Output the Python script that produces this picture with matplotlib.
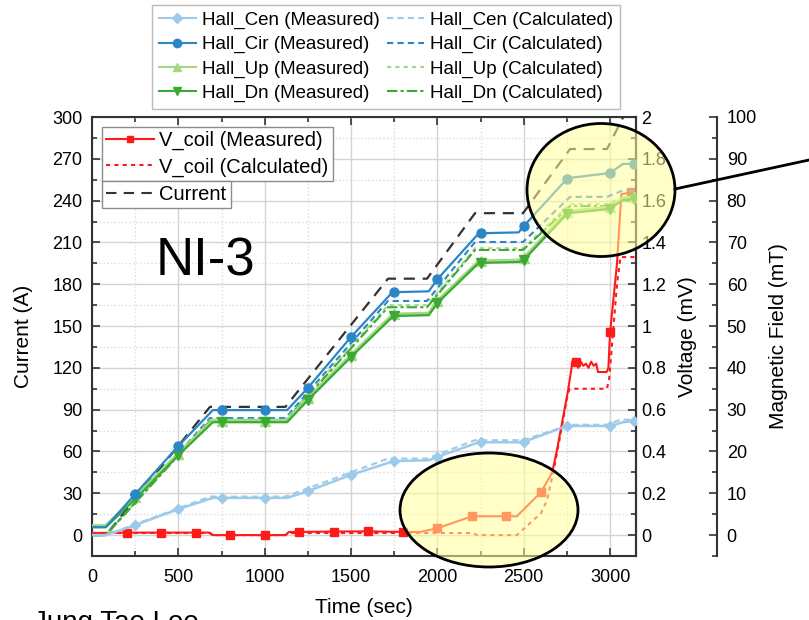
import matplotlib
matplotlib.use('Agg')
import matplotlib.pyplot as plt
from matplotlib.ticker import MultipleLocator, FuncFormatter
from matplotlib.patches import Ellipse
from matplotlib.lines import Line2D

plt.rcParams['font.family'] = ['Liberation Sans', 'DejaVu Sans']

# ---- data ----
# current profile (A)
t_cur = [0, 80, 683, 1120, 1714, 1940, 2218, 2496, 2768, 2982, 3150]
current = [0, 0, 92, 92, 184, 184, 231, 231, 277, 277, 318]

# measured Hall probes (mT), markers every 250 s
t_hall = [0, 80, 250, 500, 700, 750, 1000, 1130, 1250, 1500, 1740, 1750,
          1950, 2000, 2240, 2250, 2470, 2500, 2750, 2760, 3000, 3075, 3140]
hall_mark = [2, 3, 5, 6, 8, 9, 11, 13, 15, 17, 18, 20, 22]
cen_meas = [0, 0, 2.4, 6.2, 8.9, 8.9, 8.9, 8.9, 10.5, 14.4, 17.6, 17.7,
            17.9, 18.7, 22.2, 22.2, 22.2, 22.3, 26.1, 26.1, 26.1, 27.0, 27.3]
cir_meas = [1.9, 1.9, 9.8, 21.3, 29.9, 29.9, 29.9, 29.9, 35.2, 47.4, 58.1, 58.1,
            58.3, 61.2, 72.2, 72.2, 72.4, 73.9, 85.2, 85.4, 86.6, 88.8, 88.8]
up_meas = [2.2, 2.2, 9.0, 19.5, 27.4, 27.4, 27.4, 27.4, 32.7, 43.0, 52.6, 52.8,
           53.0, 55.9, 65.5, 65.5, 65.7, 66.2, 77.2, 77.4, 78.4, 80.6, 80.8]
dn_meas = [1.9, 1.9, 8.6, 19.1, 27.0, 27.0, 27.0, 27.0, 32.3, 42.6, 52.2, 52.4,
           52.6, 55.5, 65.1, 65.1, 65.3, 65.8, 76.8, 77.0, 78.0, 80.2, 80.4]

# calculated Hall fields (mT)
t_calc = [0, 80, 683, 1120, 1714, 1940, 2218, 2496, 2768, 2982, 3060, 3150]
cen_calc = [0, 0, 9.2, 9.2, 18.3, 18.3, 22.7, 22.7, 26.4, 26.4, 27.6, 27.6]
cir_calc = [0, 0, 28.0, 28.0, 56.0, 56.0, 70.1, 70.1, 80.9, 80.9, 82.2, 82.2]
up_calc = [0, 0, 27.6, 27.6, 55.0, 55.0, 68.6, 68.6, 79.2, 79.2, 80.6, 80.6]
dn_calc = [0, 0, 27.3, 27.3, 54.5, 54.5, 68.2, 68.2, 78.7, 78.7, 80.0, 80.0]

# coil voltage (mV)
t_vm = [0, 200, 400, 600, 680, 700, 800, 1000, 1120, 1140, 1200, 1400, 1600,
        1800, 1900, 2000, 2200, 2220, 2400, 2460, 2600, 2665, 2693, 2727, 2756,
        2775, 2780, 2790, 2800, 2815, 2830, 2845, 2860, 2875, 2890, 2905, 2920,
        2930, 2980, 2990, 3000, 3040, 3065, 3120, 3150]
v_meas = [0.01, 0.012, 0.012, 0.012, 0.012, 0.0, 0.0, 0.0, 0.0, 0.015, 0.015,
          0.017, 0.018, 0.015, 0.015, 0.033, 0.09, 0.09, 0.09, 0.09, 0.205, 0.30,
          0.41, 0.56, 0.69, 0.79, 0.83, 0.81, 0.83, 0.80, 0.83, 0.81, 0.82, 0.80,
          0.83, 0.81, 0.82, 0.78, 0.78, 0.80, 0.97, 1.30, 1.63, 1.64, 1.64]
vm_mark = [1, 2, 3, 6, 7, 10, 11, 12, 13, 15, 16, 18, 20, 28, 40, 43]
t_vc = [0, 680, 700, 1120, 1140, 1840, 2206, 2230, 2460, 2524, 2600, 2635,
        2670, 2710, 2756, 2768, 2982, 2995, 3040, 3060, 3150]
v_calc = [0.01, 0.01, 0.0, 0.0, 0.01, 0.01, 0.01, 0.0, 0.0, 0.048, 0.105,
          0.167, 0.297, 0.47, 0.68, 0.70, 0.70, 0.75, 1.2, 1.33, 1.33]

# ---- styles ----
c_cen = '#9ecae9'
c_cir = '#2b86c5'
c_up = '#a3d982'
c_dn = '#3aaa35'
c_v = '#ff1a1a'

fig = plt.figure(figsize=(8.09, 6.2), dpi=100)
ax = fig.add_axes([92 / 809, 1 - 556 / 620, 544 / 809, 439 / 620])
ax2 = ax.twinx()
ax3 = ax.twinx()
ax3.spines['right'].set_position(('axes', (717 - 92) / 544))

# current
ax.plot(t_cur, current, color='#333333', ls=(0, (5, 3.5)), lw=1.6)

# coil voltage
ax2.plot(t_vc, v_calc, color=c_v, ls=(0, (2, 2)), lw=1.5)
ax2.plot(t_vm, v_meas, color=c_v, lw=1.5, marker='s', ms=5.5,
         markevery=vm_mark)

# hall probes
ax3.plot(t_calc, cen_calc, color=c_cen, ls=(0, (3, 2)), lw=1.5)
ax3.plot(t_calc, cir_calc, color=c_cir, ls=(0, (3, 2)), lw=1.5)
ax3.plot(t_calc, up_calc, color=c_up, ls=(0, (2, 2)), lw=1.5)
ax3.plot(t_calc, dn_calc, color=c_dn, ls=(0, (5, 1.5, 1.5, 1.5)), lw=1.5)
ax3.plot(t_hall, cen_meas, color=c_cen, lw=1.8, marker='D', ms=5.5, markevery=hall_mark)
ax3.plot(t_hall, up_meas, color=c_up, lw=2.6, marker='^', ms=6.5, markevery=hall_mark)
ax3.plot(t_hall, dn_meas, color=c_dn, lw=1.6, marker='v', ms=6.5, markevery=hall_mark)
ax3.plot(t_hall, cir_meas, color=c_cir, lw=1.6, marker='o', ms=6.5, markevery=hall_mark)

# axes setup
ax.set_xlim(0, 3150)
ax.set_ylim(-15, 300)
ax2.set_ylim(-0.1, 2)
ax3.set_ylim(-5, 100)
ax.xaxis.set_major_locator(MultipleLocator(500))
ax.xaxis.set_minor_locator(MultipleLocator(250))
ax.yaxis.set_major_locator(MultipleLocator(30))
ax.yaxis.set_minor_locator(MultipleLocator(15))
ax2.yaxis.set_major_locator(MultipleLocator(0.2))
ax2.yaxis.set_minor_locator(MultipleLocator(0.1))
ax2.yaxis.set_major_formatter(FuncFormatter(lambda v, p: f'{v:g}'))
ax3.yaxis.set_major_locator(MultipleLocator(10))
ax3.yaxis.set_minor_locator(MultipleLocator(5))

ax.grid(which='major', color='#d4d4d4', lw=1)
ax.grid(which='minor', color='#dcdcdc', lw=1, ls=':')
ax.set_axisbelow(True)

spine_c = '#333333'
for a in (ax, ax2, ax3):
    for s in a.spines.values():
        s.set_color(spine_c)
        s.set_linewidth(1.5)
for s in ('left', 'top', 'bottom'):
    ax3.spines[s].set_visible(False)
    ax2.spines[s].set_visible(False)

ax.tick_params(which='both', direction='in', top=True, right=False,
               labelsize=13, color=spine_c, width=1.2)
ax.tick_params(axis='x', pad=9)
ax.tick_params(axis='y', pad=7)
ax.tick_params(which='major', length=6)
ax.tick_params(which='minor', length=3.5)
ax2.tick_params(which='both', direction='in', labelsize=13, color=spine_c,
                pad=4, width=1.2)
ax2.tick_params(which='major', length=6)
ax2.tick_params(which='minor', length=3.5)
ax3.tick_params(which='both', direction='in', labelsize=13, color=spine_c,
                pad=7, width=1.2)
ax3.tick_params(which='major', length=6)
ax3.tick_params(which='minor', length=3.5)

ax.set_xlabel('Time (sec)', fontsize=15, labelpad=9)
ax.set_ylabel('Current (A)', fontsize=15, labelpad=14)
ax2.set_ylabel('Voltage (mV)', fontsize=15, labelpad=8)
ax3.set_ylabel('Magnetic Field (mT)', fontsize=15, labelpad=9)

ax.text(655, 196, 'NI-3', fontsize=38, ha='center', va='center',
        family=['Liberation Sans Narrow', 'Liberation Sans'])

# legends
h_hall = [
    Line2D([], [], color=c_cen, lw=1.5, marker='D', ms=5),
    Line2D([], [], color=c_cir, lw=1.5, marker='o', ms=6),
    Line2D([], [], color=c_up, lw=1.5, marker='^', ms=6),
    Line2D([], [], color=c_dn, lw=1.5, marker='v', ms=6),
    Line2D([], [], color=c_cen, lw=1.5, ls=(0, (3, 2))),
    Line2D([], [], color=c_cir, lw=1.5, ls=(0, (3, 2))),
    Line2D([], [], color=c_up, lw=1.5, ls=(0, (2, 2))),
    Line2D([], [], color=c_dn, lw=1.5, ls=(0, (5, 1.5, 1.5, 1.5))),
]
l_hall = ['Hall_Cen (Measured)', 'Hall_Cir (Measured)', 'Hall_Up (Measured)',
          'Hall_Dn (Measured)', 'Hall_Cen (Calculated)', 'Hall_Cir (Calculated)',
          'Hall_Up (Calculated)', 'Hall_Dn (Calculated)']
leg_top = fig.legend(h_hall, l_hall, ncol=2, loc='upper left',
                     bbox_to_anchor=(152 / 809, 1 - 5 / 620),
                     bbox_transform=fig.transFigure, fontsize=13.5,
                     fancybox=False, edgecolor='#bbbbbb', framealpha=1,
                     handlelength=2.0, handletextpad=0.3, columnspacing=0.4,
                     labelspacing=0.38, borderpad=0.35, borderaxespad=0)

h_v = [Line2D([], [], color=c_v, lw=1.5, marker='s', ms=5),
       Line2D([], [], color=c_v, lw=1.5, ls=(0, (2, 2)))]
leg_v = ax3.legend(h_v, ['V_coil (Measured)', 'V_coil (Calculated)'],
                   loc='upper left', bbox_to_anchor=(102 / 809, 1 - 127 / 620),
                   bbox_transform=fig.transFigure, fontsize=14.5,
                   fancybox=False, edgecolor='#8c8c8c', framealpha=1,
                   handlelength=2.4, handletextpad=0.25, labelspacing=0.35,
                   borderpad=0.2, borderaxespad=0)
ax3.add_artist(leg_v)
leg_c = ax3.legend([Line2D([], [], color='#333333', lw=1.5, ls=(0, (5, 3.5)))],
                   ['Current'], loc='upper left',
                   bbox_to_anchor=(102 / 809, 1 - 181 / 620),
                   bbox_transform=fig.transFigure, fontsize=14.5,
                   fancybox=False, edgecolor='#8c8c8c', framealpha=1,
                   handlelength=2.4, handletextpad=0.25, borderpad=0.2,
                   borderaxespad=0)

# highlight ellipses and pointer line
fig.add_artist(Ellipse((601 / 809, 1 - 190 / 620), 148 / 809, 133 / 620,
                       transform=fig.transFigure, facecolor=(1, 1, 0.6, 0.55),
                       edgecolor='black', lw=2, zorder=10))
fig.add_artist(Ellipse((489 / 809, 1 - 510 / 620), 178 / 809, 114 / 620,
                       transform=fig.transFigure, facecolor=(1, 1, 0.6, 0.55),
                       edgecolor='black', lw=2, zorder=10))
fig.add_artist(Line2D([675 / 809, 1.0], [1 - 189 / 620, 1 - 160 / 620],
                      transform=fig.transFigure, color='black', lw=2, zorder=11))

fig.text(33 / 809, 1 - 610 / 620, 'Jung Tae Lee', fontsize=20, va='top')

fig.savefig('out.png', dpi=100)
